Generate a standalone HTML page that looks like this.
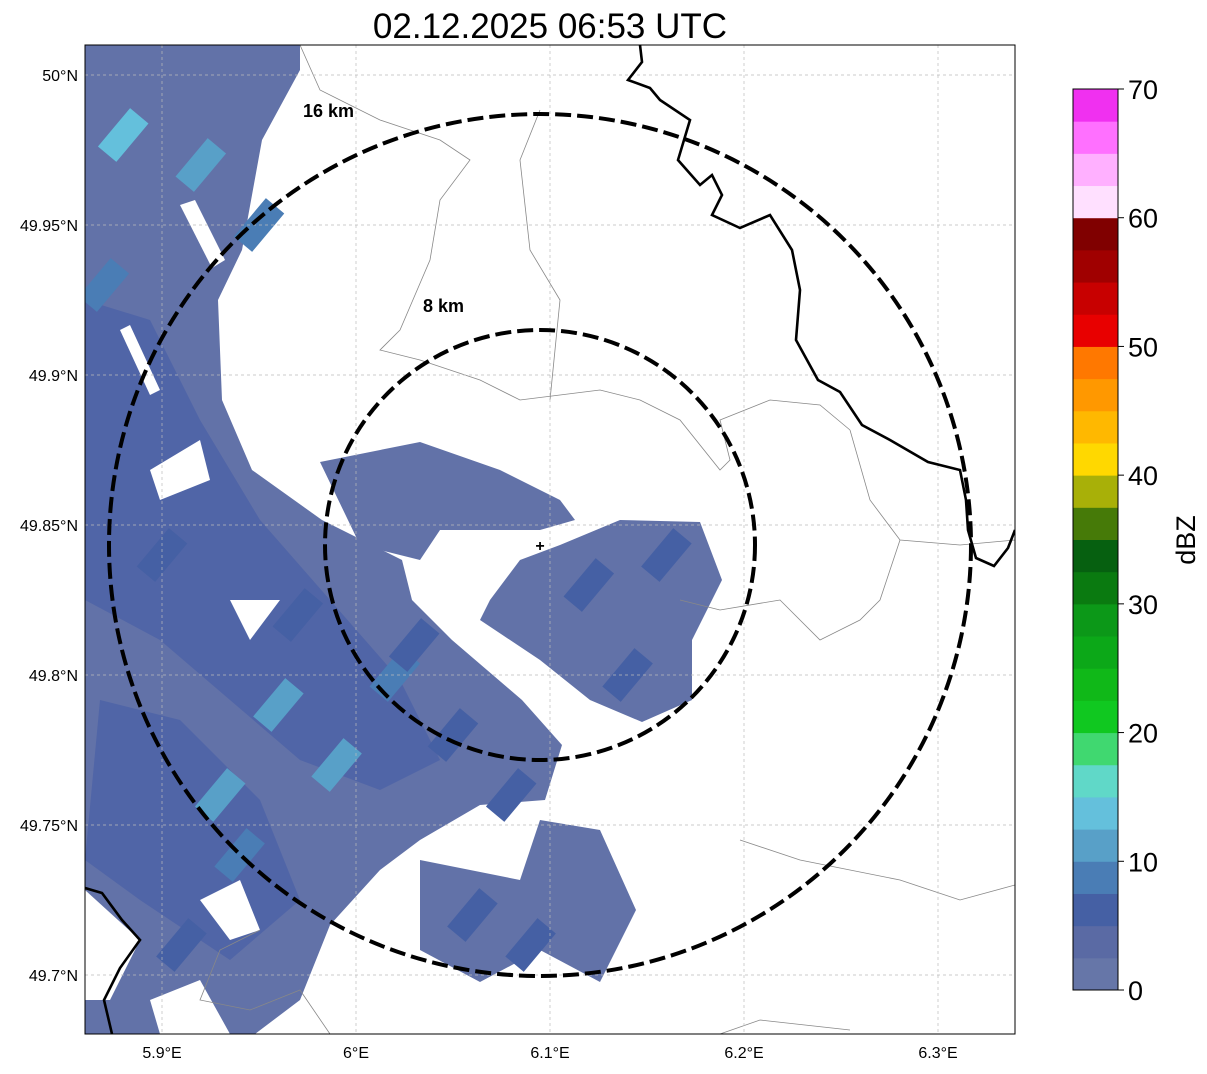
<!DOCTYPE html>
<html><head><meta charset="utf-8"><style>
body{margin:0;background:#fff;width:1207px;height:1069px;overflow:hidden;font-family:"Liberation Sans",sans-serif}
</style></head><body>
<svg id="s" width="1207" height="1069" xmlns="http://www.w3.org/2000/svg" font-family="Liberation Sans, sans-serif">
<text x="550" y="38" font-size="35" text-anchor="middle">02.12.2025 06:53 UTC</text>
<defs><clipPath id="c"><rect x="85" y="45" width="930" height="989"/></clipPath></defs>
<g id="map" clip-path="url(#c)"></g>
<rect x="85" y="45" width="930" height="989" fill="none" stroke="#000" stroke-width="1"/>
<g id="cbar"></g>
<text x="1195" y="540" font-size="27" text-anchor="middle" transform="rotate(-90 1195 540)">dBZ</text>
</svg>
<script>
const NS="http://www.w3.org/2000/svg";
const xTicks=[5.9,6.0,6.1,6.2,6.3];
const xLabels=["5.9°E","6°E","6.1°E","6.2°E","6.3°E"];
const yTicks=[50,49.95,49.9,49.85,49.8,49.75,49.7];
const yLabels=["50°N","49.95°N","49.9°N","49.85°N","49.8°N","49.75°N","49.7°N"];
const cbTicks=[0,10,20,30,40,50,60,70];
const cbColors=["#6676a8","#5a6aa4","#4560a4","#4a7db5","#58a0c8","#64c0dc","#60d8c8","#40d870","#10c820","#10b818","#0ca818","#0c9818","#0a7a10","#066010","#467a08","#a8b008","#ffd800","#ffb800","#ff9800","#ff7800","#e80000","#c80000","#a00000","#800000","#ffe0ff","#ffb0ff","#ff70ff","#f030f0"];
// radar cells: lon, lat, dbz
const cellLon=[5.92,5.95,5.88,5.9,5.97,6.02,6.05,6.08,5.93,5.96,5.99,6.03,6.12,6.14,6.16,6.06,6.09,5.91,5.94,5.87];
const cellLat=[49.97,49.95,49.98,49.84,49.82,49.8,49.78,49.76,49.76,49.79,49.77,49.81,49.83,49.8,49.84,49.72,49.71,49.71,49.74,49.93];
const cellVal=[11,9,13,6,7,8,7,6,12,10,11,7,6,7,5,5,6,7,8,9];
function X(l){return 356+(l-6)*1940}
function Y(l){return 525-(l-49.85)*3000}
function mk(t,a,p){const e=document.createElementNS(NS,t);for(const k in a)e.setAttribute(k,a[k]);(p||document.getElementById('s')).appendChild(e);return e}
function col(v){return cbColors[Math.max(0,Math.min(27,Math.floor(v/2.5)))]}
const map=document.getElementById('map');
const polys=[
"85,45 300,45 300,70 262,140 242,250 218,300 222,400 252,470 322,520 402,560 412,600 452,640 522,700 562,745 545,800 480,805 420,840 380,870 330,925 300,1000 255,1034 85,1034",
"520,560 560,545 620,520 700,522 722,580 692,640 692,700 642,722 590,700 540,660 480,620 490,600",
"420,860 520,880 540,820 600,830 636,910 600,982 540,950 480,982 420,950",
"320,462 420,442 500,470 560,500 575,520 540,530 440,530 420,560 360,545"];
polys.forEach((p,i)=>{const e=mk('polygon',{points:p,fill:'#6272a8'},map);

});
const dark=["85,300 150,320 200,420 260,520 330,600 400,680 440,760 380,790 300,760 230,700 160,640 85,600","100,700 180,720 260,800 300,900 230,960 140,900 85,860"];
dark.forEach((p,i)=>{const e=mk('polygon',{points:p,fill:'#4c62a6',opacity:0.8},map);

});
const holes=["180,205 195,200 225,260 212,268","150,470 200,440 210,480 160,500","85,890 140,940 110,1000 85,1000","200,900 240,880 260,930 230,940","230,600 280,600 250,640","120,330 130,325 160,390 150,395","150,1000 200,980 230,1034 160,1034"];
holes.forEach((p,i)=>{const e=mk('polygon',{points:p,fill:'#fff'},map);

});
cellLon.forEach((l,i)=>{const x=X(l),y=Y(cellLat[i]);const e=mk('rect',{x:x-12,y:y-25,width:24,height:50,fill:col(cellVal[i]),transform:`rotate(40 ${x} ${y})`},map);

});
["M300,45 L320,90 340,100 380,120 440,140 470,160 440,200 430,260 400,330 380,350 420,360 480,380 520,400 600,390 640,400 680,420 720,470 730,460 720,420 770,400 820,405 850,430","M850,430 870,500 900,540 960,545 1015,540","M900,540 880,600 860,620 820,640 780,600 720,610 680,600","M540,110 520,160 530,250 560,300 550,400","M260,930 220,950 200,1000 250,1010 300,990 330,1034","M720,1034 760,1020 850,1030","M740,840 800,860 900,880 960,900 1015,885"].forEach(d=>{const e=mk('path',{d:d,fill:'none',stroke:'#888','stroke-width':0.8},map);

});
xTicks.forEach((t,i)=>{const x=X(t);const g=mk('line',{x1:x,x2:x,y1:45,y2:1034,stroke:'#bbb','stroke-width':0.7,'stroke-dasharray':'3 3'},map);

const tx=mk('text',{x:x,y:1058,'font-size':16,'text-anchor':'middle'});tx.textContent=xLabels[i];
});
yTicks.forEach((t,i)=>{const y=Y(t);const g=mk('line',{x1:85,x2:1015,y1:y,y2:y,stroke:'#bbb','stroke-width':0.7,'stroke-dasharray':'3 3'},map);

const tx=mk('text',{x:78,y:y+6,'font-size':16,'text-anchor':'end'});tx.textContent=yLabels[i];
});
["M640,45 L642,62 628,80 650,88 660,100 690,120 678,160 700,185 712,175 722,195 712,215 740,228 770,215 792,250 800,290 796,340 818,380 840,392 862,425 890,440 928,462 960,470 966,500 968,530 976,558 994,566 1008,548 1015,530","M85,888 L102,893 122,920 140,940 120,968 104,1000 112,1034"].forEach(d=>{const e=mk('path',{d:d,fill:'none',stroke:'#000','stroke-width':2.6},map);
});
[[431,'range-ring-16km'],[215,'range-ring-8km']].forEach(r=>{const e=mk('ellipse',{cx:540,cy:545,rx:r[0],ry:r[0],fill:'none',stroke:'#000','stroke-width':4,'stroke-dasharray':'16 6'},map);
});
const pm=mk('text',{x:540,y:551,'font-size':16,'font-weight':'bold','text-anchor':'middle'},map);pm.textContent='+';

const l1=mk('text',{x:303,y:117,'font-size':18,'font-weight':'bold'},map);l1.textContent='16 km';

const l2=mk('text',{x:423,y:312,'font-size':18,'font-weight':'bold'},map);l2.textContent='8 km';

const cb=document.getElementById('cbar');const cbTop=89,cbBot=990,cbH=(cbBot-cbTop)/28;
cbColors.forEach((c,i)=>{const e=mk('rect',{x:1073,y:cbBot-(i+1)*cbH,width:45,height:cbH+0.5,fill:c},cb);
});
mk('rect',{x:1073,y:cbTop,width:45,height:cbBot-cbTop,fill:'none',stroke:'#000','stroke-width':1},cb);
cbTicks.forEach(t=>{const y=cbBot-t/70*(cbBot-cbTop);mk('line',{x1:1118,x2:1124,y1:y,y2:y,stroke:'#000'},cb);
const tx=mk('text',{x:1128,y:y+10,'font-size':27},cb);tx.textContent=t;
});
</script>
</body></html>
